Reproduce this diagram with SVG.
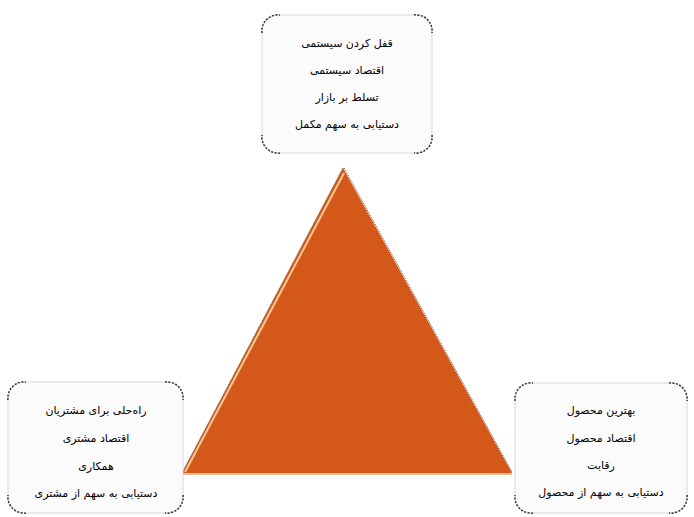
<svg xmlns="http://www.w3.org/2000/svg" width="694" height="517" viewBox="0 0 694 517">
<defs>
<style>
.box{fill:#fbfbfb;stroke:#d9d9d9;stroke-width:1}
.corner{fill:none;stroke:#333;stroke-width:1.5;stroke-dasharray:2 1.5}
.t{font-family:"DejaVu Sans",sans-serif;font-size:11px;fill:#000;text-anchor:middle;direction:rtl}
</style>
</defs>
<rect width="694" height="517" fill="#ffffff"/>
<g id="triangle">
<polygon points="343,168 182,473 512,473" fill="#d4581a"/>
<line x1="343" y1="168" x2="182" y2="473" stroke="#7a4a2a" stroke-width="1" stroke-dasharray="1 1"/>
<line x1="344" y1="173" x2="185" y2="472" stroke="#f6c896" stroke-width="2"/>
<line x1="344" y1="168" x2="512" y2="472" stroke="#6b3a20" stroke-width="1" stroke-dasharray="1 1"/>
<line x1="182" y1="474" x2="512" y2="474" stroke="#e9a77a" stroke-width="1.5"/>
</g>
<g id="node-top">
<rect class="box" x="262" y="15" width="170" height="138" rx="16"/>
<path class="corner" d="M262,33 A16,16 0 0 1 280,15 M414,15 A16,16 0 0 1 432,33 M432,135 A16,16 0 0 1 414,153 M280,153 A16,16 0 0 1 262,135"/>
<text class="t" x="347" y="47">قفل کردن سیستمی</text>
<text class="t" x="347" y="74">اقتصاد سیستمی</text>
<text class="t" x="347" y="101">تسلط بر بازار</text>
<text class="t" x="347" y="128">دستیابی به سهم مکمل</text>
</g>
<g id="node-left">
<rect class="box" x="8" y="382" width="175" height="131" rx="16"/>
<path class="corner" d="M8,400 A16,16 0 0 1 26,382 M165,382 A16,16 0 0 1 183,400 M183,495 A16,16 0 0 1 165,513 M26,513 A16,16 0 0 1 8,495"/>
<text class="t" x="96" y="414">راه‌حلی برای مشتریان</text>
<text class="t" x="96" y="442">اقتصاد مشتری</text>
<text class="t" x="96" y="470">همکاری</text>
<text class="t" x="96" y="497">دستیابی به سهم از  مشتری</text>
</g>
<g id="node-right">
<rect class="box" x="515" y="383" width="172" height="130" rx="16"/>
<path class="corner" d="M515,401 A16,16 0 0 1 533,383 M669,383 A16,16 0 0 1 687,401 M687,495 A16,16 0 0 1 669,513 M533,513 A16,16 0 0 1 515,495"/>
<text class="t" x="601" y="414">بهترین محصول</text>
<text class="t" x="601" y="442">اقتصاد محصول</text>
<text class="t" x="601" y="469">رقابت</text>
<text class="t" x="601" y="496">دستیابی به سهم از محصول</text>
</g>
<g id="connectors"></g>
</svg>
